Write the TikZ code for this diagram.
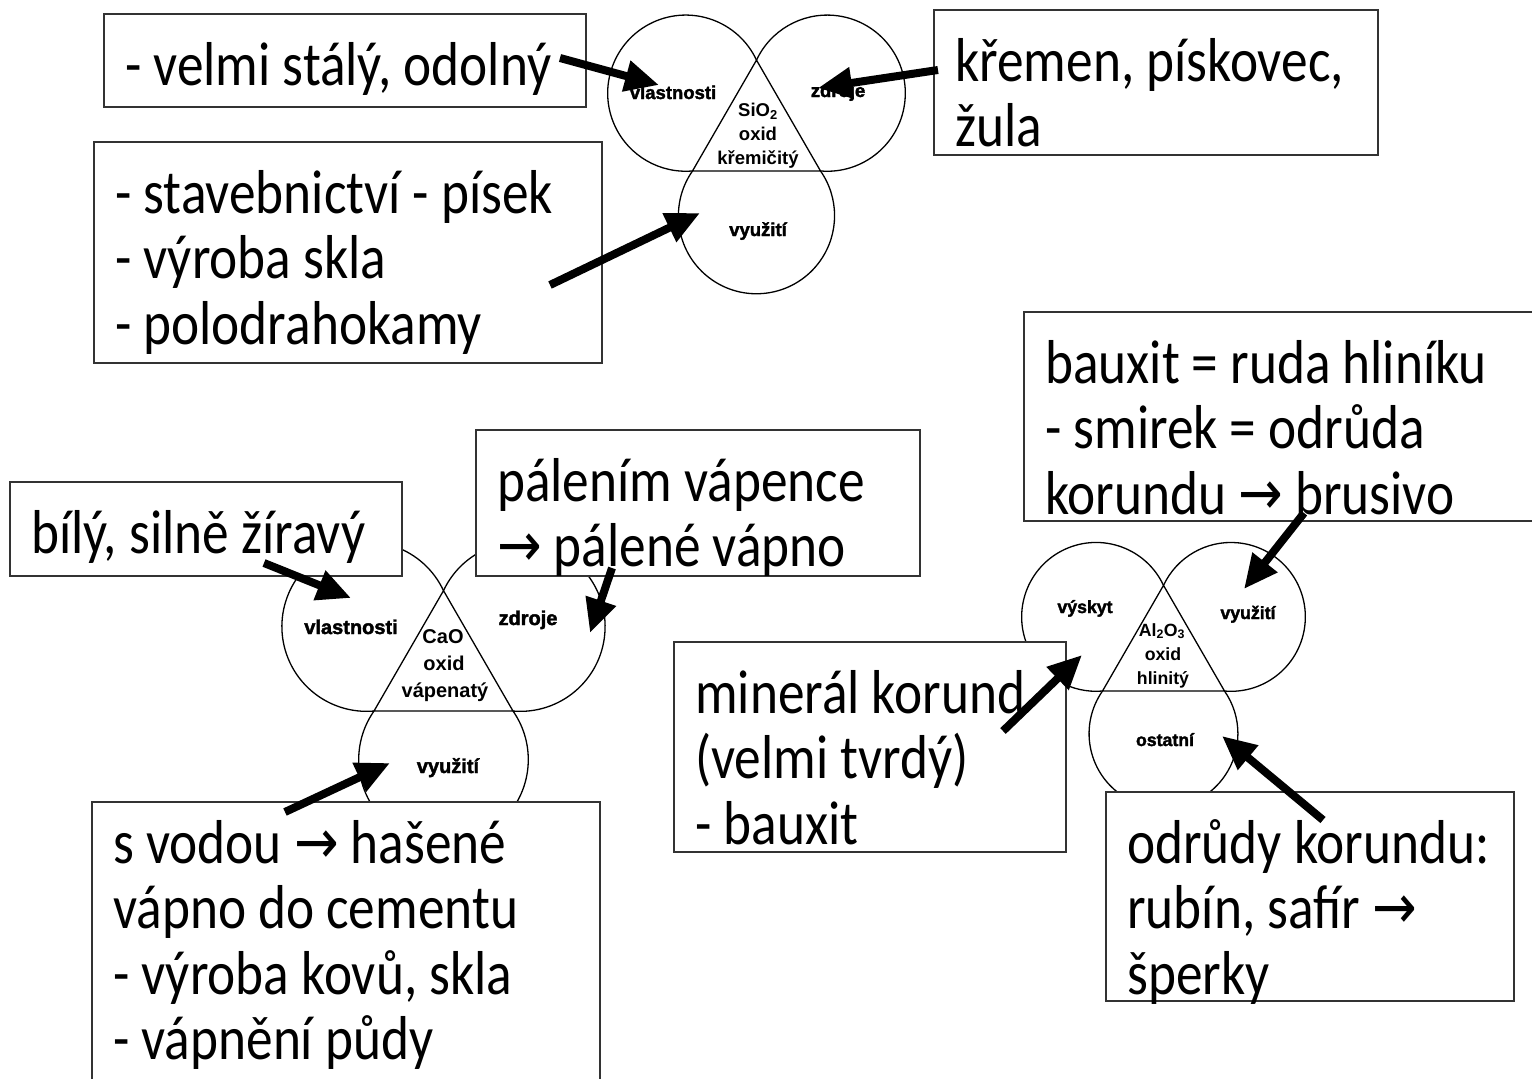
\documentclass[tikz,border=0pt]{standalone}
\usepackage{fontspec}
\setmainfont{Carlito}[FakeStretch=0.86]
\newfontfamily\lobefont{Liberation Sans}[FakeBold=2]
\newfontfamily\corefont{Liberation Sans}
\newfontfamily\arrowfont{DejaVu Sans}[FakeStretch=0.86]
\newcommand\myarrow{{\arrowfont →}}
\usetikzlibrary{arrows.meta}

\tikzset{
  outline/.style={line width=1.3pt, line join=round},
  % three-lobed oxide diagram, unit side length (scale = side in pt)
  trefoil/.pic={
    \draw[outline] (0,0.57735) -- (-0.5,-0.288675) -- (0.5,-0.288675) -- cycle;
    \draw[outline] (0,0.57735) arc[start angle=25.05, end angle=274.95, radius=0.61];
    \draw[outline] (-0.5,-0.288675) arc[start angle=145.05, end angle=394.95, radius=0.61];
    \draw[outline] (0.5,-0.288675) arc[start angle=-94.95, end angle=154.95, radius=0.61];
  },
  infobox/.style={draw=black!80, line width=1.3pt, fill=white, inner sep=0pt,
    outer sep=0pt, anchor=north west},
  txt/.style={anchor=base west, inner sep=0pt, font=\fontsize{62}{64}\selectfont},
  lobe/.style={anchor=base, inner sep=0pt},
  core/.style={anchor=base, inner sep=0pt},
  bigarrow/.style={line width=8pt, -{Triangle[length=34pt,width=30pt]}},
}

\begin{document}
\begin{tikzpicture}[x=1pt,y=1pt]
\useasboundingbox (0,0) rectangle (1532,-1079);
\fill[white] (0,0) rectangle (1532,-1079);

% ---------- SiO2 ----------
\pic[scale=128] (sio) at (756.5,-134) {trefoil};
\begin{scope}[every node/.append style={font=\lobefont\bfseries\fontsize{18.5}{22}\selectfont}]
  \node[lobe] (sio-v) at (673,-99) {vlastnosti};
  \node[lobe] (sio-z) at (838,-97) {zdroje};
  \node[lobe] (sio-u) at (758,-236) {využití};
\end{scope}
\begin{scope}[every node/.append style={font=\corefont\bfseries\fontsize{18.5}{22}\selectfont}]
  \node[core] (sio-c1) at (758,-116) {SiO\textsubscript{2}};
  \node[core] (sio-c2) at (758,-140) {oxid};
  \node[core] (sio-c3) at (758,-164) {křemičitý};
\end{scope}

% ---------- CaO ----------
\pic[scale=139] (cao) at (443.5,-670.9) {trefoil};
\begin{scope}[every node/.append style={font=\lobefont\bfseries\fontsize{20}{24}\selectfont}]
  \node[lobe] (cao-v) at (351,-634) {vlastnosti};
  \node[lobe] (cao-z) at (528,-625) {zdroje};
  \node[lobe] (cao-u) at (448,-773) {využití};
\end{scope}
\begin{scope}[every node/.append style={font=\corefont\bfseries\fontsize{20}{24}\selectfont}]
  \node[core] (cao-c1) at (443,-643) {CaO};
  \node[core] (cao-c2) at (444,-670) {oxid};
  \node[core] (cao-c3) at (445,-697) {vápenatý};
\end{scope}

% ---------- Al2O3 ----------
\pic[scale=122] (alo) at (1163.5,-655.8) {trefoil};
\begin{scope}[every node/.append style={font=\lobefont\bfseries\fontsize{17.7}{21}\selectfont}]
  \node[lobe] (alo-v) at (1085,-613) {výskyt};
  \node[lobe] (alo-u) at (1248,-619) {využití};
  \node[lobe] (alo-o) at (1165,-746) {ostatní};
\end{scope}
\begin{scope}[every node/.append style={font=\corefont\bfseries\fontsize{17.7}{21}\selectfont}]
  \node[core] (alo-c1) at (1162,-636) {Al\textsubscript{2}O\textsubscript{3}};
  \node[core] (alo-c2) at (1163,-660) {oxid};
  \node[core] (alo-c3) at (1163,-684) {hlinitý};
\end{scope}

% ---------- text boxes ----------
\node[infobox, minimum width=482pt, minimum height=93pt] (b1) at (104,-14) {};
\node[txt] (t1a) at (125,-85) {- velmi stálý, odolný};

\node[infobox, minimum width=444pt, minimum height=145pt] (b2) at (934,-10) {};
\node[txt] (t2a) at (955,-81) {křemen, pískovec,};
\node[txt] (t2b) at (955,-146.5) {žula};

\node[infobox, minimum width=508pt, minimum height=221pt] (b3) at (94,-142) {};
\node[txt] (t3a) at (115,-213) {- stavebnictví - písek};
\node[txt] (t3b) at (115,-278.5) {- výroba skla};
\node[txt] (t3c) at (115,-344) {- polodrahokamy};

\node[infobox, minimum width=512pt, minimum height=209pt] (b4) at (1024,-312) {};
\node[txt] (t4a) at (1045,-383) {bauxit = ruda hliníku};
\node[txt] (t4b) at (1045,-448.5) {- smirek = odrůda};
\node[txt] (t4c) at (1045,-514) {korundu \myarrow\ brusivo};

\node[infobox, minimum width=444pt, minimum height=146pt] (b5) at (476,-430) {};
\node[txt] (t5a) at (497,-501) {pálením vápence};
\node[txt] (t5b) at (497,-566.5) {\myarrow\ pálené vápno};

\node[infobox, minimum width=392pt, minimum height=94pt] (b6) at (10,-482) {};
\node[txt] (t6a) at (31,-553) {bílý, silně žíravý};

\node[infobox, minimum width=392pt, minimum height=210pt] (b7) at (674,-642) {};
\node[txt] (t7a) at (695,-713) {minerál korund};
\node[txt] (t7b) at (695,-778.5) {(velmi tvrdý)};
\node[txt] (t7c) at (695,-844) {- bauxit};

\node[infobox, minimum width=508pt, minimum height=290pt] (b8) at (92,-802) {};
\node[txt] (t8a) at (113,-863) {s vodou \myarrow\ hašené};
\node[txt] (t8b) at (113,-928.5) {vápno do cementu};
\node[txt] (t8c) at (113,-994) {- výroba kovů, skla};
\node[txt] (t8d) at (113,-1059.5) {- vápnění půdy};

\node[infobox, minimum width=408pt, minimum height=209pt] (b9) at (1106,-792) {};
\node[txt] (t9a) at (1127,-863) {odrůdy korundu:};
\node[txt] (t9b) at (1127,-928.5) {rubín, safír \myarrow};
\node[txt] (t9c) at (1127,-994) {šperky};

% ---------- pointer arrows ----------
\coordinate (a1s) at (560,-58);    \coordinate (a1e) at (659,-85);
\coordinate (a2s) at (938,-70);    \coordinate (a2e) at (818,-88);
\coordinate (a3s) at (550,-285);   \coordinate (a3e) at (700,-213);
\coordinate (a4s) at (264,-563);   \coordinate (a4e) at (351,-598);
\coordinate (a5s) at (612,-568);   \coordinate (a5e) at (590,-633);
\coordinate (a6s) at (285,-812);   \coordinate (a6e) at (390,-763);
\coordinate (a7s) at (1304,-513);  \coordinate (a7e) at (1244,-589);
\coordinate (a8s) at (1003,-731);  \coordinate (a8e) at (1082,-655);
\coordinate (a9s) at (1323,-820);  \coordinate (a9e) at (1222,-736);
\foreach \i in {1,...,9} \draw[bigarrow] (a\i s) -- (a\i e);
\end{tikzpicture}
\end{document}
